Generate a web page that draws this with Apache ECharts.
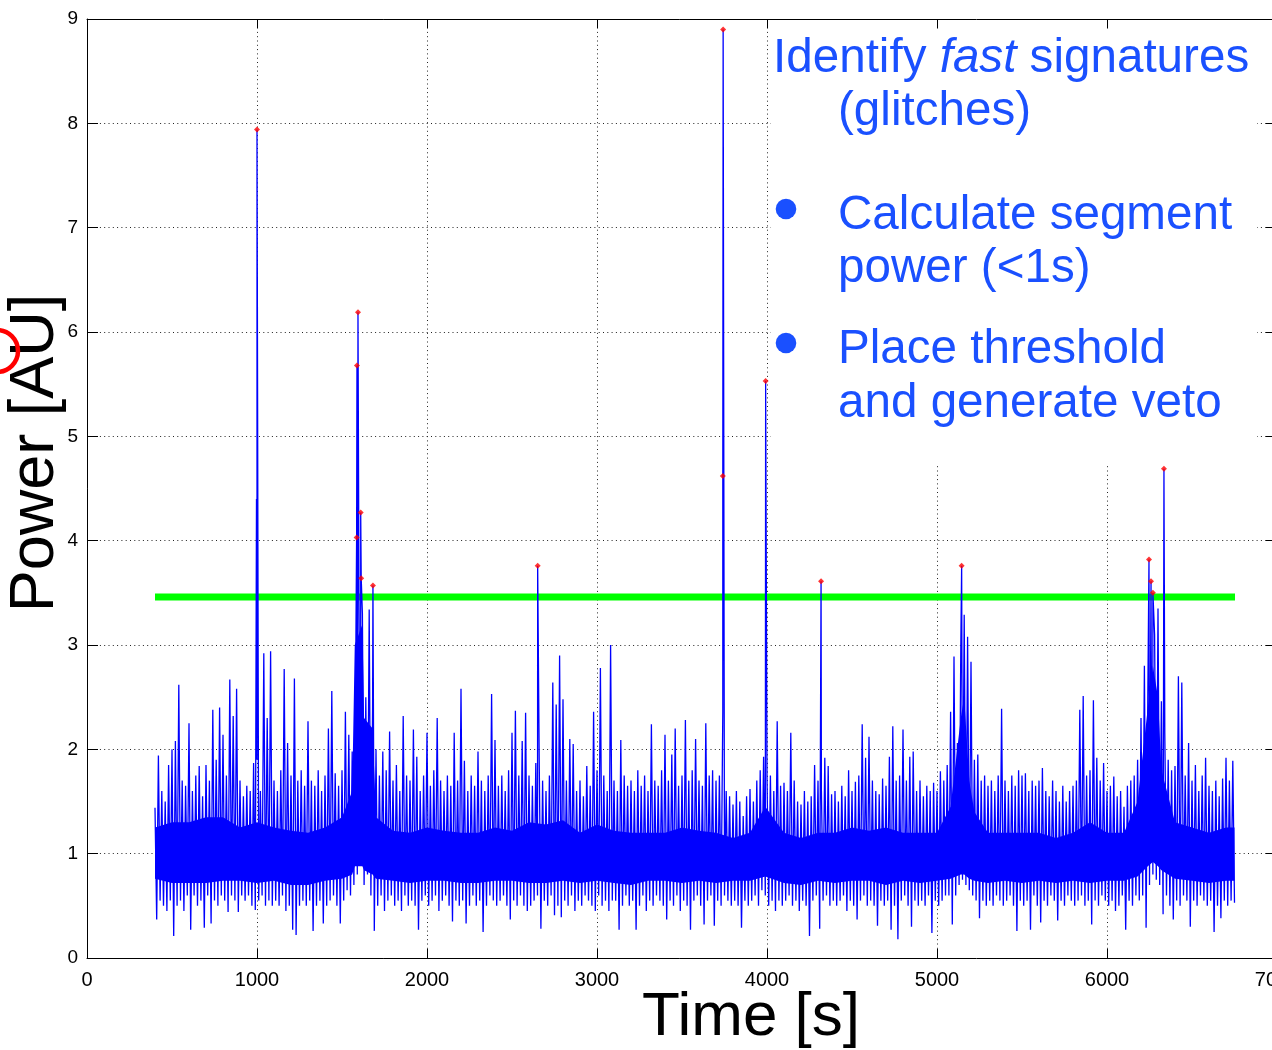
<!DOCTYPE html>
<html>
<head>
<meta charset="utf-8">
<script src="https://cdn.jsdelivr.net/npm/echarts@6/dist/echarts.min.js"></script>
<style>
html,body{margin:0;padding:0;background:#ffffff;}
#chart{width:1272px;height:1050px;}
</style>
</head>
<body>
<div id="chart"></div>
<script>
// ---- axis ticks ----
const xTickValues = [0, 1000, 2000, 3000, 4000, 5000, 6000, 7000];
const yTickValues = [0, 1, 2, 3, 4, 5, 6, 7, 8, 9];

// ---- segment power: local maxima (t = 400, 420, 440, ...) ----
const peakStart = 400;
const peakStep = 20;
const peakVals = [
  1.44, 1.94, 1.6, 1.5, 1.85,
  2.0, 2.08, 2.62, 1.7, 1.65,
  2.25, 1.6, 1.75, 1.84, 1.55,
  1.85, 1.7, 2.38, 1.9, 2.40,
  2.14, 1.75, 2.67, 2.32, 2.58,
  1.7, 1.55, 1.65, 1.6, 1.87,
  1.9, 1.6, 2.92, 2.3, 2.94,
  1.7, 1.6, 1.8, 2.77, 2.06,
  1.75, 2.68, 1.7, 1.8, 1.65,
  2.27, 1.7, 1.65, 1.8, 1.6,
  1.75, 2.2, 2.56, 1.77, 1.65,
  1.8, 2.36, 2.14, 1.98, 2.64,
  3.4, 3.3, 2.5, 3.34, 2.4,
  2.0, 1.75, 1.98, 1.8, 2.17,
  1.7, 1.85, 1.6, 2.32, 1.75,
  1.7, 2.19, 1.93, 1.6, 1.75,
  2.16, 1.65, 1.8, 2.3, 1.7,
  1.6, 1.75, 1.65, 2.16, 1.7,
  2.58, 1.89, 1.6, 1.75, 1.65,
  1.98, 1.7, 1.6, 1.75, 2.53,
  2.09, 1.65, 1.75, 1.6, 1.8,
  2.16, 2.37, 1.75, 2.08, 2.35,
  1.75, 1.65, 1.87, 1.9, 1.7,
  1.6, 1.75, 2.64, 2.43, 2.9,
  2.48, 1.7, 2.1, 2.05, 1.6,
  1.7, 1.55, 1.84, 1.65, 2.36,
  1.8, 2.78, 1.75, 1.6, 3.0,
  1.7, 1.6, 2.09, 1.75, 1.65,
  1.7, 1.6, 1.8, 1.65, 1.75,
  1.6, 2.24, 1.7, 1.65, 1.8,
  2.14, 1.7, 1.95, 2.2, 1.65,
  1.75, 2.28, 1.7, 1.8, 2.1,
  1.7, 1.65, 2.25, 1.75, 1.8,
  1.7, 1.75, 2.36, 1.6, 1.55,
  1.47, 1.6, 1.5, 1.36, 1.55,
  1.62, 1.5, 1.7, 1.8, 1.93,
  1.75, 1.75, 1.6, 2.27, 1.65,
  1.68, 1.6, 2.16, 1.7, 1.5,
  1.47, 1.6, 1.5, 1.55, 1.85,
  1.7, 1.6, 1.92, 1.84, 1.57,
  1.6, 1.5, 1.65, 1.55, 1.8,
  1.6, 1.69, 1.75, 2.24, 1.92,
  2.12, 1.7, 1.6, 1.57, 1.72,
  1.65, 1.93, 2.22, 1.7, 1.75,
  2.19, 1.7, 1.93, 1.98, 1.6,
  1.7, 1.55, 1.65, 1.6, 1.68,
  1.6, 1.79, 1.7, 1.85, 2.36,
  2.89, 2.06, 2.98, 3.29, 3.08,
  2.84, 1.9, 1.95, 1.7, 1.75,
  1.65, 1.7, 1.6, 1.75, 2.39,
  1.7, 1.6, 1.75, 1.65, 1.8,
  1.75, 1.77, 1.6, 1.7, 1.65,
  1.7, 1.82, 1.6, 1.55, 1.7,
  1.6, 1.5, 1.65, 1.5, 1.6,
  1.65, 1.7, 2.38, 2.51, 1.75,
  1.8, 2.47, 1.92, 1.7, 1.87,
  1.6, 1.65, 1.74, 1.55, 1.6,
  1.45, 1.65, 1.7, 1.75, 1.9,
  2.3, 2.8, 2.48, 2.96, 3.1,
  3.35, 2.46, 2.16, 1.9, 1.8,
  1.84, 2.7, 2.64, 1.75, 2.06,
  1.7, 1.85, 1.6, 1.75, 1.92,
  1.65, 1.6, 1.7, 1.55, 1.72,
  1.92, 1.7, 1.89
];

// ---- segment power: local minima (t = 410, 430, 450, ...) ----
const dipStart = 410;
const dipStep = 20;
const dipVals = [
  0.37, 0.55, 0.5, 0.45, 0.55,
  0.21, 0.5, 0.55, 0.45, 0.6,
  0.27, 0.6, 0.5, 0.55, 0.29,
  0.6, 0.33, 0.55, 0.5, 0.6,
  0.55, 0.44, 0.6, 0.55, 0.44,
  0.6, 0.55, 0.6, 0.5, 0.46,
  0.55, 0.6, 0.5, 0.55, 0.5,
  0.55, 0.5, 0.6, 0.45, 0.5,
  0.27, 0.22, 0.5, 0.55, 0.5,
  0.55, 0.26, 0.5, 0.55, 0.33,
  0.5, 0.55, 0.6, 0.5, 0.33,
  0.55, 0.65, 0.6, 0.7, 0.8,
  0.9, 0.7, 0.8, 0.6, 0.26,
  0.5, 0.6, 0.45, 0.55, 0.6,
  0.5, 0.55, 0.45, 0.6, 0.5,
  0.55, 0.5, 0.27, 0.55, 0.6,
  0.5, 0.55, 0.6, 0.45, 0.55,
  0.6, 0.5, 0.35, 0.55, 0.5,
  0.55, 0.33, 0.5, 0.6, 0.5,
  0.55, 0.25, 0.5, 0.6, 0.55,
  0.5, 0.55, 0.6, 0.5, 0.37,
  0.55, 0.5, 0.6, 0.5, 0.45,
  0.5, 0.55, 0.6, 0.28, 0.55,
  0.5, 0.6, 0.41, 0.5, 0.39,
  0.55, 0.5, 0.6, 0.45, 0.55,
  0.5, 0.6, 0.55, 0.5, 0.45,
  0.6, 0.5, 0.55, 0.45, 0.55,
  0.55, 0.27, 0.5, 0.6, 0.5,
  0.55, 0.27, 0.5, 0.6, 0.45,
  0.55, 0.5, 0.6, 0.55, 0.5,
  0.37, 0.55, 0.5, 0.6, 0.45,
  0.55, 0.5, 0.27, 0.55, 0.6,
  0.5, 0.32, 0.55, 0.6, 0.31,
  0.55, 0.5, 0.6, 0.55, 0.5,
  0.55, 0.5, 0.29, 0.55, 0.5,
  0.55, 0.6, 0.5, 0.65, 0.6,
  0.5, 0.55, 0.45, 0.55, 0.5,
  0.55, 0.6, 0.5, 0.55, 0.45,
  0.55, 0.5, 0.21, 0.55, 0.6,
  0.28, 0.55, 0.6, 0.5, 0.55,
  0.5, 0.55, 0.6, 0.45, 0.55,
  0.5, 0.37, 0.55, 0.6, 0.5,
  0.55, 0.5, 0.31, 0.55, 0.5,
  0.55, 0.27, 0.5, 0.18, 0.55,
  0.6, 0.5, 0.3, 0.55, 0.5,
  0.55, 0.5, 0.6, 0.24, 0.55,
  0.5, 0.55, 0.6, 0.6, 0.32,
  0.6, 0.7, 0.75, 0.7, 0.65,
  0.6, 0.55, 0.38, 0.55, 0.5,
  0.55, 0.5, 0.6, 0.55, 0.5,
  0.55, 0.6, 0.5, 0.26, 0.55,
  0.5, 0.55, 0.27, 0.6, 0.5,
  0.34, 0.55, 0.5, 0.6, 0.55,
  0.36, 0.55, 0.5, 0.6, 0.55,
  0.5, 0.55, 0.6, 0.5, 0.55,
  0.32, 0.55, 0.5, 0.6, 0.55,
  0.5, 0.55, 0.45, 0.5, 0.6,
  0.27, 0.55, 0.5, 0.6, 0.55,
  0.6, 0.29, 0.7, 0.8, 0.75,
  0.7, 0.42, 0.6, 0.5, 0.37,
  0.55, 0.5, 0.6, 0.55, 0.3,
  0.55, 0.5, 0.6, 0.55, 0.5,
  0.55, 0.25, 0.5, 0.38, 0.55,
  0.5, 0.55, 0.53
];

// ---- dense core of the noise band (solid region) ----
const coreT = [400, 500, 600, 700, 800, 900, 1000, 1100, 1200, 1300, 1400, 1500,
  1560, 1575, 1620, 1630, 1680, 1700, 1800, 1900, 2000, 2100, 2200, 2300, 2400,
  2500, 2600, 2700, 2800, 2900, 3000, 3100, 3200, 3300, 3400, 3500, 3600, 3700,
  3800, 3900, 3990, 4100, 4200, 4300, 4400, 4500, 4600, 4700, 4800, 4900, 5000,
  5080, 5140, 5160, 5190, 5220, 5300, 5400, 5500, 5600, 5700, 5800, 5900, 6000,
  6100, 6180, 6240, 6270, 6300, 6320, 6400, 6500, 6600, 6700, 6750];
const coreHi = [1.25, 1.3, 1.3, 1.35, 1.35, 1.25, 1.3, 1.25, 1.22, 1.2, 1.25, 1.35,
  1.6, 3.0, 3.2, 2.3, 2.2, 1.35, 1.22, 1.2, 1.25, 1.22, 1.2, 1.2, 1.25,
  1.22, 1.3, 1.28, 1.32, 1.2, 1.28, 1.22, 1.2, 1.2, 1.2, 1.25, 1.22, 1.2,
  1.15, 1.2, 1.45, 1.2, 1.15, 1.2, 1.2, 1.25, 1.22, 1.25, 1.2, 1.2, 1.2,
  1.45, 2.3, 2.5, 1.7, 1.4, 1.2, 1.2, 1.2, 1.2, 1.15, 1.2, 1.3, 1.2,
  1.2, 1.5, 2.4, 2.8, 2.5, 1.8, 1.3, 1.25, 1.2, 1.25, 1.25];
const coreLo = [0.76, 0.72, 0.72, 0.72, 0.74, 0.74, 0.72, 0.74, 0.7, 0.7, 0.74, 0.76,
  0.8, 0.88, 0.88, 0.84, 0.8, 0.76, 0.74, 0.72, 0.74, 0.74, 0.72, 0.72, 0.74,
  0.74, 0.72, 0.72, 0.74, 0.72, 0.74, 0.72, 0.7, 0.74, 0.74, 0.72, 0.74, 0.72,
  0.74, 0.74, 0.78, 0.72, 0.7, 0.74, 0.72, 0.74, 0.74, 0.7, 0.74, 0.72, 0.74,
  0.76, 0.8, 0.8, 0.76, 0.74, 0.72, 0.74, 0.72, 0.74, 0.72, 0.74, 0.72, 0.74,
  0.74, 0.78, 0.88, 0.92, 0.88, 0.84, 0.76, 0.74, 0.72, 0.74, 0.74];

// ---- glitches above threshold (red markers) ----
const glitchT = [1000, 1586, 1588, 1594, 1610, 1613, 1682, 2651, 3740, 3742, 3992, 4318, 5145, 6247, 6259, 6270, 6335];
const glitchV = [7.94, 4.03, 5.68, 6.19, 4.27, 3.64, 3.57, 3.76, 4.62, 8.90, 5.53, 3.61, 3.76, 3.82, 3.61, 3.50, 4.69];
// sub-threshold excursion next to the first glitch
const extraT = [997];
const extraV = [4.4];

// ---- threshold ----
const thresholdValue = 3.46;
const thresholdT = [400, 6753];

// ---- build series data ----
const signal = [];
peakVals.forEach((v, i) => signal.push([peakStart + i * peakStep, v]));
dipVals.forEach((v, i) => signal.push([dipStart + i * dipStep, v]));
extraT.forEach((t, i) => signal.push([t, extraV[i]]));
glitchT.forEach((t, i) => signal.push([t, glitchV[i]]));
signal.sort((a, b) => a[0] - b[0]);

const markers = glitchT.map((t, i) => [t, glitchV[i]]);
const thresholdLine = thresholdT.map(t => [t, thresholdValue]);

const FONT = '"Liberation Sans", Arial, Helvetica, sans-serif';
const BLUE_TXT = '#1a50ff';
const SIG_BLUE = '#0000ff';

const chart = echarts.init(document.getElementById('chart'), null, {renderer: 'canvas'});

const axisCommonX = {
  type: 'value', min: 0, max: 7000, interval: 1000,
  axisLine: {show: true, onZero: false, lineStyle: {color: '#000', width: 1}},
  axisTick: {show: true, inside: true, length: 9, lineStyle: {color: '#000', width: 1}}
};
const axisCommonY = {
  type: 'value', min: 0, max: 9, interval: 1,
  axisLine: {show: true, onZero: false, lineStyle: {color: '#000', width: 1}},
  axisTick: {show: true, inside: true, length: 11, lineStyle: {color: '#000', width: 1}}
};

const option = {
  animation: false,
  backgroundColor: '#ffffff',
  grid: {left: 87, top: 19, width: 1190, height: 939, containLabel: false, outerBoundsMode: 'none'},
  xAxis: [
    Object.assign({}, axisCommonX, {
      position: 'bottom',
      axisLabel: {color: '#000', fontSize: 20, fontFamily: FONT, margin: 12,
        hideOverlap: false, showMaxLabel: true,
        formatter: v => xTickValues.includes(v) ? String(v) : ''},
      splitLine: {show: true, lineStyle: {color: '#222', width: 1, type: [1, 3.3]}}
    }),
    Object.assign({}, axisCommonX, {
      position: 'top',
      axisLabel: {show: false},
      splitLine: {show: false}
    })
  ],
  yAxis: [
    Object.assign({}, axisCommonY, {
      position: 'left',
      axisLabel: {color: '#000', fontSize: 19, fontFamily: FONT, margin: 9,
        formatter: v => yTickValues.includes(v) ? String(v) : ''},
      splitLine: {show: true, lineStyle: {color: '#222', width: 1, type: [1, 3.3]}}
    }),
    Object.assign({}, axisCommonY, {
      position: 'right',
      axisLabel: {show: false},
      splitLine: {show: false}
    })
  ],
  series: [
    {
      name: 'threshold', type: 'line', data: thresholdLine,
      xAxisIndex: 0, yAxisIndex: 0,
      symbol: 'none', silent: true, z: 2,
      lineStyle: {color: '#00ff00', width: 7, cap: 'butt'}
    },
    {
      name: 'noise core', type: 'custom', xAxisIndex: 0, yAxisIndex: 0,
      silent: true, z: 3, clip: true,
      data: [[coreT[0], coreLo[0]]],
      renderItem: (params, api) => {
        const pts = [];
        for (let i = 0; i < coreT.length; i++) pts.push(api.coord([coreT[i], coreHi[i]]));
        for (let i = coreT.length - 1; i >= 0; i--) pts.push(api.coord([coreT[i], coreLo[i]]));
        return {type: 'polygon', shape: {points: pts}, style: {fill: SIG_BLUE}};
      }
    },
    {
      name: 'segment power', type: 'line', data: signal,
      xAxisIndex: 0, yAxisIndex: 0,
      symbol: 'none', silent: true, sampling: null, z: 3,
      lineStyle: {color: SIG_BLUE, width: 1.3, join: 'miter'}
    },
    {
      name: 'glitches', type: 'scatter', data: markers,
      xAxisIndex: 0, yAxisIndex: 0,
      symbol: 'diamond', symbolSize: 6, silent: true, z: 4,
      itemStyle: {color: '#ff0000'}
    }
  ],
  graphic: {
    elements: [
      // white text panel covering the plot's upper right corner
      {type: 'rect', z: 1, silent: true,
        shape: {x: 771, y: 30, width: 486, height: 433},
        style: {fill: '#ffffff'}},
      {type: 'text', z: 5, silent: true,
        style: {x: 773, y: 35, text: '{a|Identify }{b|fast}{a| signatures}',
          textVerticalAlign: 'top',
          rich: {
            a: {fontSize: 47.6, fontFamily: FONT, fill: BLUE_TXT, lineHeight: 47.6},
            b: {fontSize: 47.6, fontFamily: FONT, fontStyle: 'italic', fill: BLUE_TXT, lineHeight: 47.6}
          }}},
      {type: 'text', z: 5, silent: true,
        style: {x: 838, y: 88, text: '(glitches)', font: '47.6px ' + FONT, fill: BLUE_TXT, textVerticalAlign: 'top'}},
      {type: 'circle', z: 5, silent: true, shape: {cx: 786, cy: 209, r: 10.3}, style: {fill: BLUE_TXT}},
      {type: 'text', z: 5, silent: true,
        style: {x: 838, y: 192, text: 'Calculate segment', font: '47.6px ' + FONT, fill: BLUE_TXT, textVerticalAlign: 'top'}},
      {type: 'text', z: 5, silent: true,
        style: {x: 838, y: 245, text: 'power (<1s)', font: '47.6px ' + FONT, fill: BLUE_TXT, textVerticalAlign: 'top'}},
      {type: 'circle', z: 5, silent: true, shape: {cx: 786, cy: 343, r: 10.3}, style: {fill: BLUE_TXT}},
      {type: 'text', z: 5, silent: true,
        style: {x: 838, y: 326, text: 'Place threshold', font: '47.6px ' + FONT, fill: BLUE_TXT, textVerticalAlign: 'top'}},
      {type: 'text', z: 5, silent: true,
        style: {x: 838, y: 380, text: 'and generate veto', font: '47.6px ' + FONT, fill: BLUE_TXT, textVerticalAlign: 'top'}},
      // axis titles
      {type: 'text', z: 5, silent: true,
        style: {x: 751, y: 1018, text: 'Time [s]', font: '62px ' + FONT, fill: '#000',
          textAlign: 'center', textVerticalAlign: 'middle'}},
      {type: 'text', z: 5, silent: true, x: 36, y: 453, rotation: Math.PI / 2,
        style: {x: 0, y: 0, text: 'Power [AU]', font: '63px ' + FONT, fill: '#000',
          textAlign: 'center', textVerticalAlign: 'middle'}},
      // red annotation arc at the left edge
      {type: 'circle', z: 6, silent: true, shape: {cx: -3, cy: 351, r: 21},
        style: {fill: 'none', stroke: '#ff0000', lineWidth: 4.5}}
    ]
  }
};
chart.setOption(option);
</script>
</body>
</html>
